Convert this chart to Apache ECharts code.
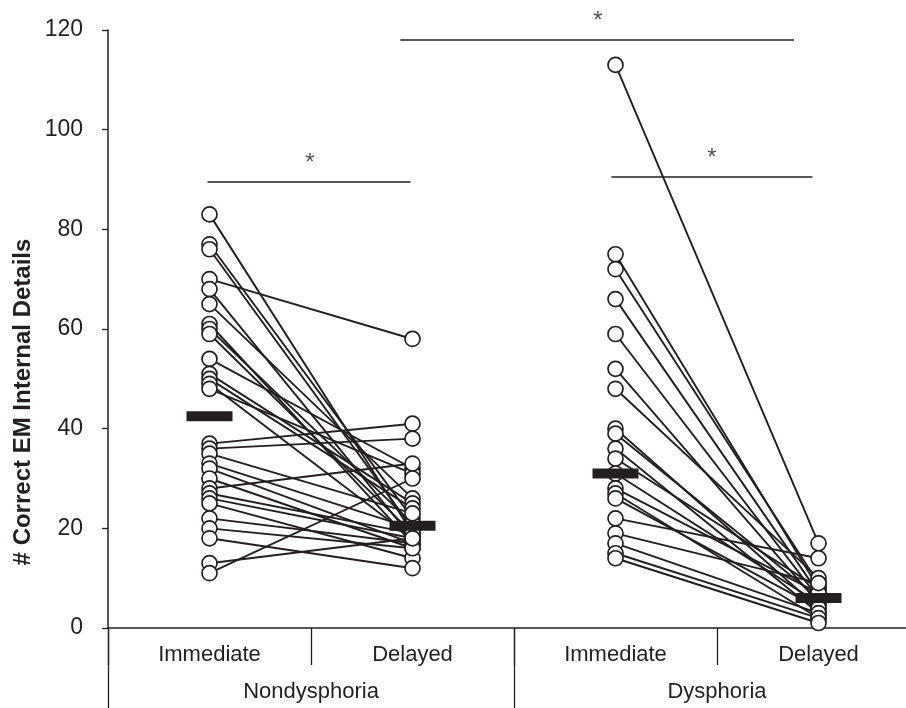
<!DOCTYPE html>
<html><head><meta charset="utf-8">
<script src="https://cdn.jsdelivr.net/npm/echarts@6/dist/echarts.min.js"></script>
<style>html,body{margin:0;padding:0;background:#fff}#c{width:906px;height:708px}</style>
</head><body><div id="c"></div>
<script>
const categories = ['Immediate', 'Delayed', 'Immediate', 'Delayed'];
const groups = ['Nondysphoria', 'Dysphoria'];
const yTicks = [0, 20, 40, 60, 80, 100, 120];
const yTitle = '# Correct EM Internal Details';

// Nondysphoria: paired values per participant
const ndImmediate = [83, 77, 76, 70, 68, 65, 61, 60, 59, 54, 51, 50, 49, 48, 37, 36, 35, 33, 32, 30, 28, 27, 26, 25, 22, 20, 18, 13, 11];
const ndDelayed   = [19, 22, 20, 58, 18, 26, 17, 21, 19, 32, 25, 24, 18, 31, 41, 38, 23, 20, 17, 16, 33, 19, 18, 14, 17, 16, 12, 18, 30];
// Dysphoria
const dImmediate = [113, 75, 72, 66, 59, 52, 48, 40, 39, 36, 34, 31, 28, 27, 26, 22, 19, 17, 15, 14];
const dDelayed   = [17, 8, 9, 7, 6, 5, 10, 4, 6, 3, 8, 5, 7, 2, 4, 14, 9, 3, 2, 1];
// group means (black bars)
const means = [42.5, 20.5, 31, 6];

// significance brackets: [xStart, xEnd, y, starX, starY]
const brackets = [
  [0.49, 1.49, 89.5, 0.995, 93.3],
  [2.48, 3.47, 90.5, 2.975, 94.3],
  [1.44, 3.38, 118, 2.414, 121.8]
];

const chart = echarts.init(document.getElementById('c'), null, {renderer: 'canvas'});
const series = [];
function addPairs(imm, del, ci) {
  for (let i = 0; i < imm.length; i++) {
    series.push({
      type: 'line', xAxisIndex: 0, yAxisIndex: 0, silent: true,
      showSymbol: false, symbol: 'none',
      lineStyle: {color: '#231f20', width: 1.9},
      data: [[ci + 0.5, imm[i]], [ci + 1.5, del[i]]], z: 2
    });
  }
}
addPairs(ndImmediate, ndDelayed, 0);
addPairs(dImmediate, dDelayed, 2);

const pts = [];
ndImmediate.forEach(v => pts.push([0.5, v]));
ndDelayed.forEach(v => pts.push([1.5, v]));
dImmediate.forEach(v => pts.push([2.5, v]));
dDelayed.forEach(v => pts.push([3.5, v]));
series.push({
  type: 'scatter', xAxisIndex: 0, yAxisIndex: 0, symbol: 'circle', symbolSize: 15,
  itemStyle: {color: '#fff', borderColor: '#231f20', borderWidth: 1.7, opacity: 1},
  data: pts, z: 5, clip: false
});
series.push({
  type: 'scatter', xAxisIndex: 0, yAxisIndex: 0, symbol: 'rect', symbolSize: [46, 10],
  itemStyle: {color: '#231f20', opacity: 1},
  data: means.map((m, i) => [i + 0.5, m]), z: 6
});
brackets.forEach(b => {
  series.push({
    type: 'line', xAxisIndex: 0, yAxisIndex: 0, symbol: 'none', silent: true,
    lineStyle: {color: '#231f20', width: 1.4},
    data: [[b[0], b[2]], [b[1], b[2]]], z: 3
  });
});
series.push({
  type: 'scatter', xAxisIndex: 0, yAxisIndex: 0, symbolSize: 0, clip: false,
  label: {show: true, position: 'inside', formatter: '*', fontSize: 24, color: '#231f20',
          fontFamily: 'Liberation Sans, Arial, sans-serif'},
  data: brackets.map(b => [b[3], b[4]]), z: 7
});

const font = 'Liberation Sans, Arial, sans-serif';
chart.setOption({
  animation: false,
  backgroundColor: '#fff',
  grid: {left: 108, top: 30, width: 812, bottom: 80, containLabel: false, outerBoundsMode: 'none'},
  xAxis: [
    {type: 'value', min: 0, max: 4, show: false},
    {type: 'category', data: categories, position: 'bottom', boundaryGap: true,
     axisLine: {show: true, lineStyle: {color: '#231f20', width: 1.5}},
     axisTick: {show: true, length: 37, lineStyle: {color: '#231f20', width: 1.3}},
     axisLabel: {margin: 16, fontSize: 22, color: '#231f20', fontFamily: font}},
    {type: 'category', data: groups, position: 'bottom', boundaryGap: true,
     axisLine: {show: false},
     axisTick: {show: true, length: 80, lineStyle: {color: '#231f20', width: 1.3}},
     axisLabel: {margin: 53, fontSize: 22, color: '#231f20', fontFamily: font}}
  ],
  yAxis: {
    type: 'value', min: 0, max: 120, interval: 20,
    axisLine: {show: true, lineStyle: {color: '#231f20', width: 1.5}},
    axisTick: {show: true, length: 6, lineStyle: {color: '#231f20', width: 1.3}},
    axisLabel: {margin: 25, fontSize: 23, color: '#231f20', fontFamily: font,
                formatter: v => yTicks.includes(v) ? String(v) : ''},
    splitLine: {show: false}
  },
  graphic: [{
    type: 'text', x: 23, y: 402, rotation: Math.PI / 2,
    style: {text: yTitle, font: 'bold 24px ' + font, fill: '#231f20',
            textAlign: 'center', textVerticalAlign: 'middle'}
  }],
  series: series
});
</script></body></html>
